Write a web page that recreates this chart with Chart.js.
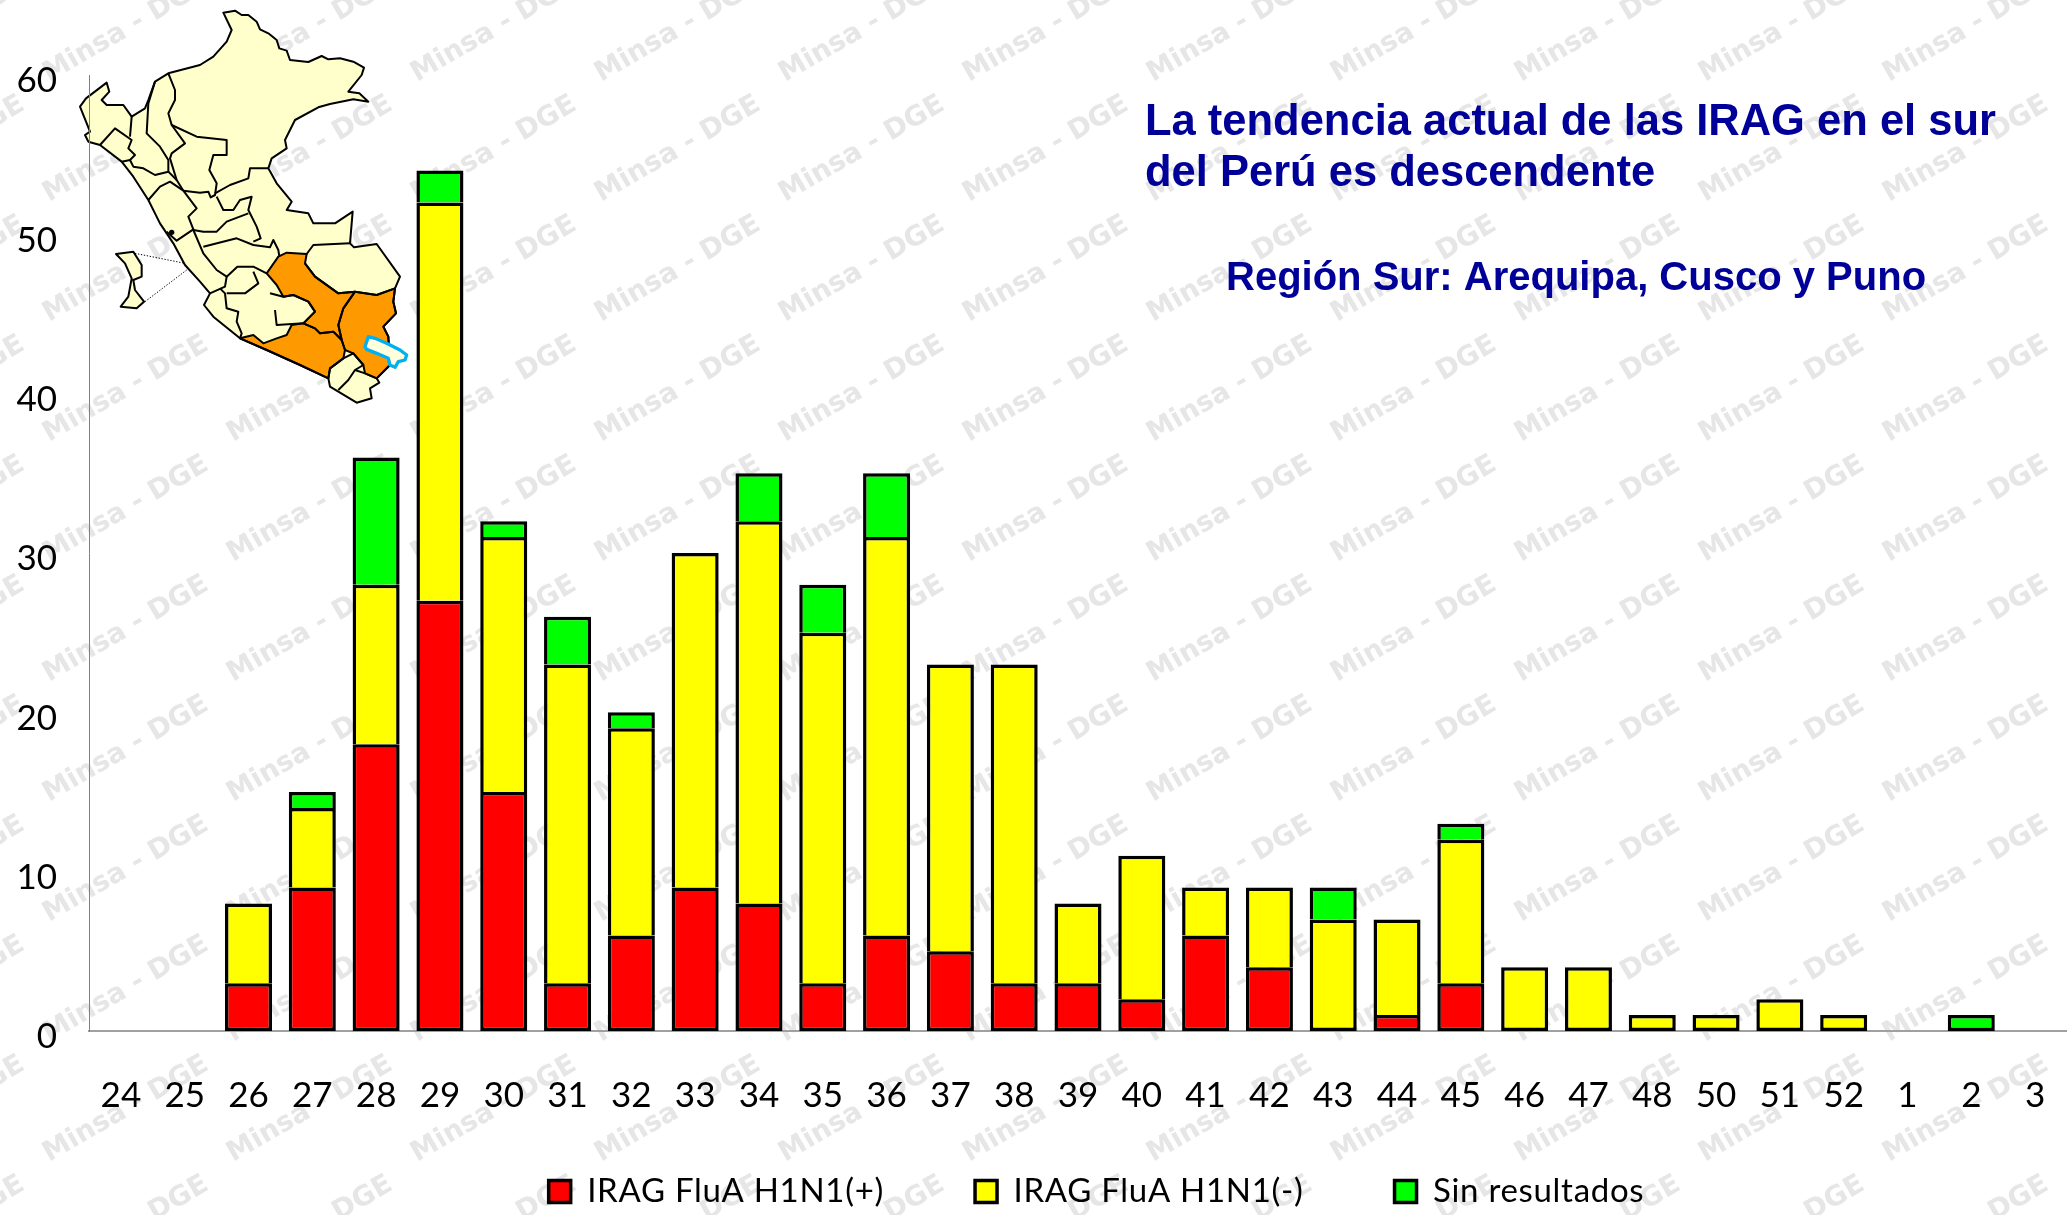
<!DOCTYPE html>
<html lang="es">
<head>
<meta charset="utf-8">
<title>IRAG Región Sur</title>
<script src="https://cdn.jsdelivr.net/npm/chart.js@4"></script>
<style>html,body{margin:0;padding:0;background:#fff}canvas{display:block}</style>
</head>
<body>
<canvas id="c" width="2067" height="1215"></canvas>
<script>
const weeks = ['24','25','26','27','28','29','30','31','32','33','34','35','36','37','38','39','40','41','42','43','44','45','46','47','48','50','51','52','1','2','3'];
const positive = [null,null,3,9,18,27,15,3,6,9,8,3,6,5,3,3,2,6,4,null,1,3,null,null,null,null,null,null,null,null,null];
const negative = [null,null,5,5,10,25,16,20,13,21,24,22,25,18,20,5,9,3,5,7,6,9,4,4,1,1,2,1,null,null,null];
const noResult = [null,null,null,1,8,2,1,3,1,null,3,3,4,null,null,null,null,null,null,2,null,1,null,null,null,null,null,null,null,1,null];
const seriesNames = ['IRAG FluA H1N1(+)','IRAG FluA H1N1(-)','Sin resultados'];
const seriesColors = ['#ff0000','#ffff00','#00ff00'];
const headline = ['La tendencia actual de las IRAG en el sur','del Perú es descendente'];
const subhead = 'Región Sur: Arequipa, Cusco y Puno';
const watermark = 'Minsa - DGE';

const stacks = [positive, negative, noResult];
const skip = ds => ctx => {
  for (let k = 0; k < ds; k++) if (stacks[k][ctx.dataIndex]) return 'start';
  return false;
};

/* Map outline, traced at 3x */
const P = s => new Path2D('M' + s.trim().replace(/\s+/g, ' L') + ' Z');
const L = s => new Path2D('M' + s.trim().replace(/\s+/g, ' L'));
const peru = P(`670,38 705,32 725,45 745,45 770,65 780,88 805,100 830,120 838,145 860,152 870,180 925,186 965,168 985,178 1020,175 1060,185 1092,203 1085,225 1045,275 1078,280 1105,305 1060,298 990,312 955,322 885,360 855,420 860,445 815,475 805,505 830,550 875,605 860,630 925,640 940,670 1005,670 1058,635 1050,730 1062,742 1130,732 1200,830 1185,865 1180,905 1188,940 1150,980 1165,1010 1170,1095 1130,1135 1138,1148 1110,1165 1115,1195 1070,1208 1020,1178 990,1160 985,1135 900,1095 800,1050 720,1015 640,950 612,915 630,880 600,845 555,795 520,730 480,670 445,600 400,530 365,485 300,435 265,425 255,405 270,395 240,320 258,295 320,248 328,275 305,300 320,315 370,315 395,350 435,325 445,300 465,245 505,220 600,195 640,170 680,125 695,90`);
const cusco = P(`800,820 835,770 860,758 920,762 915,790 945,830 1015,880 1065,875 1030,925 1015,975 1025,1020 1000,995 960,1000 945,985 910,970 945,935 925,905 880,885 850,890 830,855`);
const arequipa = P(`720,1015 760,1005 790,1030 830,1015 860,1005 875,975 910,970 945,985 960,1000 1000,995 1025,1020 1035,1050 1030,1075 990,1105 985,1135 900,1095 800,1050`);
const puno = P(`1065,875 1130,885 1185,865 1180,905 1188,940 1150,980 1165,1010 1170,1095 1130,1135 1095,1120 1090,1095 1060,1060 1035,1050 1025,1020 1015,975 1030,925`);
const borders = [
  `505,220 525,270 525,300 505,340 515,375 555,430 515,460 510,475 530,540 550,572`,
  `465,245 445,310 440,400 480,440 505,480 505,515 465,525 430,505 400,500 390,480 405,465 385,445 395,420 345,385 300,435`,
  `395,350 390,410`,
  `365,485 390,480`,
  `515,375 590,410 680,420 680,465 640,465 628,510 650,550 645,585 632,592 625,575 600,578 550,572`,
  `505,515 530,540`,
  `645,580 690,555 745,535 750,505 805,505`,
  `650,590 670,630 700,630 720,600 755,590 745,630 770,680 782,715 760,725`,
  `445,600 480,560 510,545 550,572 590,625 565,650 580,688 530,722 500,695`,
  `580,690 610,695 650,695 680,665 745,640`,
  `580,690 610,760 650,810 680,830 675,860 630,880`,
  `610,740 710,715 760,735 810,742 820,720 835,750 838,770`,
  `680,830 712,800 760,800 800,820`,
  `760,815 775,850 735,880 680,880`,
  `660,865 675,880 680,925 715,935 710,965 725,1000 720,1015`,
  `920,762 940,735 1050,730`,
  `915,790 945,830 1015,880 1065,875 1130,885 1185,865`,
  `810,880 850,890 880,885 925,905 945,935 910,970 830,975 825,930`,
  `985,1135 990,1105 1030,1075 1060,1060 1090,1095 1065,1110 1045,1140 1015,1170`,
  `1065,1110 1095,1120 1130,1135`
].map(L);
const island = P(`348,762 400,755 425,795 425,830 400,840 405,870 432,905 410,925 362,920 385,890 395,835 375,790`);
const lake = P(`1095,1040 1105,1010 1125,1015 1160,1030 1200,1050 1220,1065 1215,1080 1195,1085 1185,1102 1170,1095 1165,1075 1130,1060 1100,1048`);
const leaders = L(`405,760 555,790`);
const leaders2 = L(`435,905 560,810`);

const legendTracking = '0.7px';
const legendBottom = -3;
const spaced = (chart, fn) => function (...args) {
  chart.ctx.letterSpacing = legendTracking;
  const out = fn.apply(this, args);
  chart.ctx.letterSpacing = '0px';
  return out;
};

const decorations = {
  id: 'decorations',
  beforeLayout(chart) {
    const g = chart.legend;
    if (!g._spaced) {
      g._spaced = true;
      g.fit = spaced(chart, g.fit);
      g.draw = spaced(chart, g.draw);
    }
  },
  afterLayout(chart) {
    chart.legend.left += 63;
    chart.legend.right += 63;
    chart.scales.x.bottom = chart.height;
  },
  beforeDraw(chart) {
    const c = chart.ctx;
    c.save();
    c.fillStyle = '#fff';
    c.fillRect(0, 0, chart.width, chart.height);
    c.font = 'bold 27.5px "DejaVu Sans"';
    c.fillStyle = '#e6e6e6';
    c.textAlign = 'left';
    c.textBaseline = 'alphabetic';
    for (let bottom = 83; bottom < 1300; bottom += 120) {
      c.save();
      c.beginPath();
      c.rect(0, bottom - 120, chart.width, 120);
      c.clip();
      for (let x = 49 - 184; x < chart.width; x += 184) {
        c.save();
        c.translate(x, bottom - 1);
        c.rotate(-Math.PI / 6);
        c.fillText(watermark, 0, 0);
        c.restore();
      }
      c.restore();
    }
    c.restore();

    c.save();
    c.scale(1 / 3, 1 / 3);
    c.lineJoin = 'round';
    c.fillStyle = '#ffffcc';
    c.fill(peru);
    c.fill(island);
    c.fillStyle = '#ff9900';
    c.fill(cusco);
    c.fill(arequipa);
    c.fill(puno);
    c.strokeStyle = '#000';
    c.lineWidth = 6;
    borders.forEach(b => c.stroke(b));
    c.stroke(cusco); c.stroke(arequipa); c.stroke(puno);
    c.stroke(peru);
    c.stroke(island);
    c.beginPath(); c.arc(515, 697, 8, 0, 7); c.fillStyle = '#000'; c.fill();
    c.lineWidth = 3;
    c.setLineDash([4, 5]);
    c.stroke(leaders); c.stroke(leaders2);
    c.setLineDash([]);
    c.fillStyle = '#ffffdd';
    c.fill(lake);
    c.lineWidth = 10;
    c.strokeStyle = '#00b0f0';
    c.stroke(lake);
    c.restore();
  },
  afterDraw(chart) {
    const c = chart.ctx;
    c.save();
    c.fillStyle = '#000099';
    c.textBaseline = 'alphabetic';
    c.textAlign = 'left';
    c.font = 'bold 43.5px "Liberation Sans"';
    c.fillText(headline[0], 1145, 135);
    c.fillText(headline[1], 1145, 186);
    c.font = 'bold 40px "Liberation Sans"';
    c.fillText(subhead, 1226, 290);
    c.restore();
  }
};

new Chart(document.getElementById('c'), {
  type: 'bar',
  data: {
    labels: weeks,
    datasets: stacks.map((values, i) => ({
      label: seriesNames[i],
      data: values,
      backgroundColor: seriesColors[i],
      borderColor: '#000',
      borderWidth: 3.5,
      borderSkipped: skip(i),
      barPercentage: 1,
      categoryPercentage: 0.737
    }))
  },
  plugins: [decorations],
  options: {
    responsive: false,
    animation: false,
    devicePixelRatio: 1,
    layout: { padding: { top: 75, bottom: legendBottom, left: 0, right: 0 } },
    plugins: {
      title: { display: false },
      tooltip: { enabled: false },
      legend: {
        position: 'bottom',
        labels: {
          color: '#000',
          font: { family: 'Lato', size: 33 },
          boxWidth: 22,
          boxHeight: 22,
          padding: 91
        }
      }
    },
    scales: {
      x: {
        stacked: true,
        grid: { display: false, drawTicks: false },
        border: { color: '#a0a0a0', width: 2 },
        ticks: { color: '#000', font: { family: 'Lato', size: 35 }, padding: 44, autoSkip: false, maxRotation: 0, minRotation: 0 },
        afterFit(s) { s.height = 1215 - legendBottom - 1031 - (s.chart.legend ? s.chart.legend.height : 0); s.paddingLeft = 0; s.paddingRight = 0; }
      },
      y: {
        stacked: true,
        min: 0,
        max: 60,
        grid: { display: false, drawTicks: false },
        border: { color: '#808080', width: 1 },
        ticks: { color: '#000', stepSize: 10, font: { family: 'Lato', size: 35 }, padding: 32, labelOffset: 6 },
        afterFit(s) { s.width = 89; s.paddingTop = 0; s.paddingBottom = 0; }
      }
    }
  }
});
</script>
</body>
</html>
